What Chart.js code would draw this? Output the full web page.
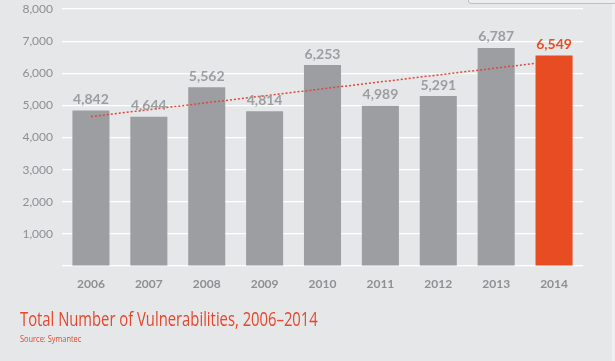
<!DOCTYPE html>
<html><head><meta charset="utf-8">
<script src="https://cdn.jsdelivr.net/npm/chart.js@4/dist/chart.umd.min.js"></script>
<style>
html,body{margin:0;padding:0;background:#e6e7e8;}
#wrap{position:relative;width:615px;height:361px;overflow:hidden;background:#e6e7e8;}
canvas{position:absolute;left:0;top:0;}
#title{position:absolute;left:20px;top:305px;font-family:"Open Sans",sans-serif;font-size:20px;color:#e4472c;white-space:nowrap;transform:scaleX(0.74);transform-origin:0 0;}
#src{position:absolute;left:20px;top:332px;font-family:"Open Sans",sans-serif;font-size:9.5px;color:#e4472c;white-space:nowrap;transform:scaleX(0.78);transform-origin:0 0;}
#edge{position:absolute;left:612px;top:0;width:3px;height:361px;background:#eef0f1;}
#box{position:absolute;left:468px;top:-4px;width:147px;height:6px;border:1px solid #b9c0c6;border-radius:3px;background:#eceef0;}
</style></head>
<body><div id="wrap"><canvas id="c" width="615" height="361"></canvas><div id="edge"></div><div id="box"></div>
<div id="title">Total Number of Vulnerabilities, 2006–2014</div>
<div id="src">Source: Symantec</div></div>
<script>
const years = ['2006','2007','2008','2009','2010','2011','2012','2013','2014'];
const vulnerabilities = [4842,4644,5562,4814,6253,4989,5291,6787,6549];
const trendPoints = [{x:0,y:4650},{x:7.68,y:6310}];
const yTicks = [0,1000,2000,3000,4000,5000,6000,7000,8000];

const gray = '#9d9ea2', orange = '#e84c22';
const barColors = vulnerabilities.map((v,i)=> i===vulnerabilities.length-1 ? orange : gray);
const fmt = v => v.toLocaleString('en-US');

const labelPlugin = {
  id:'labels',
  afterDatasetsDraw(chart){
    const ctx = chart.ctx;
    const meta = chart.getDatasetMeta(1);
    ctx.save();
    ctx.font = 'bold 14px Lato, "Open Sans", sans-serif';
    ctx.textAlign = 'center';
    ctx.textBaseline = 'bottom';
    meta.data.forEach((bar,i)=>{
      ctx.fillStyle = i===vulnerabilities.length-1 ? orange : '#9c9da1';
      ctx.fillText(fmt(vulnerabilities[i]), bar.x, bar.y - 4);
    });
    ctx.restore();
  }
};

new Chart(document.getElementById('c'), {
  data:{
    labels: years,
    datasets:[
      {type:'line', data: trendPoints, xAxisID:'x2', borderColor:'#e0453a', borderWidth:1.5, borderDash:[2,2], pointRadius:0, order:0, fill:false},
      {type:'bar', data: vulnerabilities, xAxisID:'x', backgroundColor: barColors, barPercentage:0.64, categoryPercentage:1, grouped:false, order:1}
    ]
  },
  options:{
    responsive:false, animation:false,
    layout:{padding:{top:9,right:32,left:0,bottom:0}},
    plugins:{legend:{display:false}, tooltip:{enabled:false}},
    scales:{
      x:{
        grid:{display:false}, border:{display:false},
        ticks:{color:'#8e8f92', font:{family:'Lato, "Open Sans", sans-serif', size:12, weight:'bold'}, padding:3},
        afterFit(s){ s.height = 95; s.paddingLeft = 0; s.paddingRight = 0; }
      },
      x2:{type:'linear', display:false, min:-0.5, max:8.5},
      y:{
        min:0, max:8000,
        afterBuildTicks(s){ s.ticks = yTicks.map(v=>({value:v})); },
        grid:{color:'#ffffff', lineWidth:1.2, drawTicks:false},
        border:{display:false},
        ticks:{color:'#8e8f92', padding:9, font:{family:'Lato, "Open Sans", sans-serif', size:12},
          callback:v=> v===0 ? '' : fmt(v)},
        afterFit(s){ s.width = 62; s.paddingTop = 0; s.paddingBottom = 0; }
      }
    }
  },
  plugins:[labelPlugin]
});
</script></body></html>
